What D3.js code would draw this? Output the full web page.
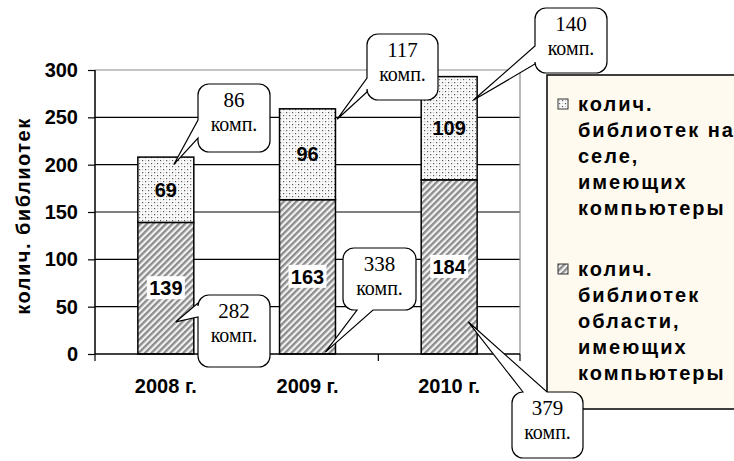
<!DOCTYPE html>
<html>
<head>
<meta charset="utf-8">
<script src="https://cdn.jsdelivr.net/npm/d3@7"></script>
<style>
  body { margin: 0; background: #fff; }
  svg { font-family: "Liberation Sans", Arial, sans-serif; }
</style>
</head>
<body>
<svg width="734" height="461"></svg>
<script>
// Chart data.
let years = ["2008 г.", "2009 г.", "2010 г."];
let regionLibs = [139, 163, 184];   // библиотеки области с компьютерами
let villageLibs = [69, 96, 109];    // библиотеки на селе с компьютерами
let regionComps = [282, 338, 379];  // компьютеров всего
let villageComps = [86, 117, 140];  // компьютеров на селе
let yTicks = [0, 50, 100, 150, 200, 250, 300];
let legendLines = [
    ["колич.", "библиотек на", "селе,", "имеющих", "компьютеры"],
    ["колич.", "библиотек", "области,", "имеющих", "компьютеры"]
];

// Callout layout (box + where the pointer hits the bar, in value units).
let villageCallouts = [
    { x: 198, y: 84, w: 72, h: 68, side: "left", b1: 36, b2: 54, frac: 0.64, val: 200 },
    { x: 367, y: 34, w: 71, h: 66, side: "left", b1: 44, b2: 58, frac: 1.03, val: 248 },
    { x: 535, y: 8, w: 72, h: 65, side: "left", b1: 38, b2: 56, frac: 0.93, val: 268 }
];
let regionCallouts = [
    { x: 198, y: 295, w: 72, h: 72, side: "left", b1: 8, b2: 22, frac: 0.68, val: 34 },
    { x: 343, y: 248, w: 73, h: 62, side: "bottom", b1: 14, b2: 30, frac: 0.82, val: 2 },
    { x: 512, y: 392, w: 71, h: 66, side: "top", b1: 11, b2: 35, frac: 0.84, val: 34 }
];

let svg = d3.select("svg");

// Plot area.
let plotLeft = 95, plotRight = 520, plotTop = 70, plotBottom = 354;

let x = d3.scaleBand().domain(years).range([plotLeft, plotRight])
    .paddingInner(0.605).paddingOuter(0.3025);
let y = d3.scaleLinear().domain([0, 300]).range([plotBottom, plotTop]);

// Fill patterns.
let defs = svg.append("defs");
let hatch = defs.append("pattern")
    .attr("id", "hatch")
    .attr("patternUnits", "userSpaceOnUse")
    .attr("width", 4.5).attr("height", 4.5)
    .attr("patternTransform", "rotate(45)");
hatch.append("rect").attr("width", 4.5).attr("height", 4.5).attr("fill", "#f2f2f2");
hatch.append("rect").attr("width", 2.3).attr("height", 4.5).attr("fill", "#8c8c8c");

let dots = defs.append("pattern")
    .attr("id", "dots")
    .attr("patternUnits", "userSpaceOnUse")
    .attr("width", 6).attr("height", 6);
dots.append("rect").attr("width", 6).attr("height", 6).attr("fill", "#fbfbfb");
[[0, 0, "#555"], [3, 3, "#555"], [3, 0, "#c8c8c8"], [0, 3, "#c8c8c8"]].forEach(function (d) {
    dots.append("rect").attr("x", d[0] + 1).attr("y", d[1] + 1)
        .attr("width", 1.2).attr("height", 1.2).attr("fill", d[2]);
});

// Gridlines (top one is the grey plot border).
svg.append("g").selectAll("line")
    .data(yTicks.slice(1))
    .join("line")
    .attr("x1", plotLeft).attr("x2", plotRight)
    .attr("y1", d => y(d)).attr("y2", d => y(d))
    .attr("stroke", d => d == 300 ? "#8a8a8a" : "#000")
    .attr("stroke-width", 1.2);
svg.append("line")
    .attr("x1", plotRight).attr("x2", plotRight)
    .attr("y1", plotTop).attr("y2", plotBottom)
    .attr("stroke", "#8a8a8a").attr("stroke-width", 1.2);

// Stacked bars.
let bars = svg.append("g");
years.forEach(function (yr, i) {
    bars.append("rect")
        .attr("x", x(yr)).attr("width", x.bandwidth())
        .attr("y", y(regionLibs[i])).attr("height", y(0) - y(regionLibs[i]))
        .attr("fill", "url(#hatch)").attr("stroke", "#000").attr("stroke-width", 1.5);
    bars.append("rect")
        .attr("x", x(yr)).attr("width", x.bandwidth())
        .attr("y", y(regionLibs[i] + villageLibs[i])).attr("height", y(0) - y(villageLibs[i]))
        .attr("fill", "url(#dots)").attr("stroke", "#000").attr("stroke-width", 1.5);
});

// Value labels inside the bars.
years.forEach(function (yr, i) {
    let cx = x(yr) + x.bandwidth() / 2;
    let cy = y(regionLibs[i] / 2);
    bars.append("rect")
        .attr("x", cx - 19).attr("y", cy - 12).attr("width", 38).attr("height", 23)
        .attr("fill", "#fff");
    bars.append("text")
        .attr("x", cx).attr("y", cy + 7)
        .attr("text-anchor", "middle")
        .attr("font-size", 20).attr("font-weight", "bold")
        .text(regionLibs[i]);
    bars.append("text")
        .attr("x", cx).attr("y", y(regionLibs[i] + villageLibs[i] / 2) + 7)
        .attr("text-anchor", "middle")
        .attr("font-size", 20).attr("font-weight", "bold")
        .text(villageLibs[i]);
});

// Axes.
let yAxis = svg.append("g")
    .attr("transform", "translate(" + plotLeft + ",0)")
    .call(d3.axisLeft(y).tickValues(yTicks).tickSize(7).tickPadding(10));
let xAxis = svg.append("g")
    .attr("transform", "translate(0," + plotBottom + ")")
    .call(d3.axisBottom(x).tickSize(0).tickPadding(25));
[yAxis, xAxis].forEach(function (g) {
    g.attr("font-family", null);
    g.select(".domain").attr("stroke", "#000").attr("stroke-width", 1.5);
    g.selectAll(".tick line").attr("stroke", "#000").attr("stroke-width", 1.2);
    g.selectAll("text")
        .attr("font-size", 20).attr("font-weight", "bold").attr("fill", "#000");
});
yAxis.select(".domain").attr("d", "M0," + plotTop + "V" + plotBottom);
xAxis.select(".domain").attr("d", "M" + plotLeft + ",0H" + plotRight);

// Category boundary ticks on the x axis.
let bounds = [plotLeft].concat(years.map(d => x(d) + x.bandwidth() + x.step() * x.paddingInner() / 2));
bounds[bounds.length - 1] = plotRight;
svg.append("g").selectAll("line")
    .data(bounds)
    .join("line")
    .attr("x1", d => d).attr("x2", d => d)
    .attr("y1", plotBottom).attr("y2", plotBottom + 7)
    .attr("stroke", "#000").attr("stroke-width", 1.2);

// Y axis title.
svg.append("text")
    .attr("transform", "translate(30," + ((plotTop + plotBottom) / 2 + 4) + ") rotate(-90)")
    .attr("text-anchor", "middle")
    .attr("font-size", 20).attr("font-weight", "bold")
    .attr("letter-spacing", 1.5)
    .text("колич. библиотек");

// Legend.
let legend = svg.append("g");
legend.append("rect")
    .attr("x", 547).attr("y", 75).attr("width", 200).attr("height", 334)
    .attr("fill", "#fffaef").attr("stroke", "#000").attr("stroke-width", 1.5);
let swatches = ["url(#dots)", "url(#hatch)"];
let groupTop = [104, 269];
legendLines.forEach(function (lines, g) {
    legend.append("rect")
        .attr("x", 558).attr("y", groupTop[g] - 5).attr("width", 10).attr("height", 10)
        .attr("fill", swatches[g]).attr("stroke", "#333").attr("stroke-width", 1);
    lines.forEach(function (ln, k) {
        legend.append("text")
            .attr("x", 578).attr("y", groupTop[g] + k * 26 + 7)
            .attr("font-size", 20).attr("font-weight", "bold")
            .attr("letter-spacing", 2)
            .text(ln);
    });
});

// Callout path: rounded box with a wedge pointing at (tx, ty).
let calloutPath = function (c, tx, ty) {
    let r = 11, x0 = c.x, y0 = c.y, x1 = c.x + c.w, y1 = c.y + c.h;
    let p = d3.path();
    p.moveTo(x0 + r, y0);
    if (c.side == "top") {
        p.lineTo(x0 + c.b1, y0); p.lineTo(tx, ty); p.lineTo(x0 + c.b2, y0);
    }
    p.lineTo(x1 - r, y0);
    p.arcTo(x1, y0, x1, y0 + r, r);
    p.lineTo(x1, y1 - r);
    p.arcTo(x1, y1, x1 - r, y1, r);
    if (c.side == "bottom") {
        p.lineTo(x0 + c.b2, y1); p.lineTo(tx, ty); p.lineTo(x0 + c.b1, y1);
    }
    p.lineTo(x0 + r, y1);
    p.arcTo(x0, y1, x0, y1 - r, r);
    if (c.side == "left") {
        p.lineTo(x0, y0 + c.b2); p.lineTo(tx, ty); p.lineTo(x0, y0 + c.b1);
    }
    p.lineTo(x0, y0 + r);
    p.arcTo(x0, y0, x0 + r, y0, r);
    p.closePath();
    return p.toString();
};

let drawCallouts = function (layout, values) {
    layout.forEach(function (c, i) {
        let tx = x(years[i]) + c.frac * x.bandwidth();
        let ty = y(c.val);
        let g = svg.append("g")
            .style("font-family", "'Liberation Serif', 'Times New Roman', serif");
        g.append("path")
            .attr("d", calloutPath(c, tx, ty))
            .attr("fill", "#fff").attr("stroke", "#000").attr("stroke-width", 1.2);
        g.append("text")
            .attr("x", c.x + c.w / 2).attr("y", c.y + 23)
            .attr("text-anchor", "middle")
            .attr("font-size", 21)
            .text(values[i]);
        g.append("text")
            .attr("x", c.x + c.w / 2).attr("y", c.y + 47)
            .attr("text-anchor", "middle")
            .attr("font-size", 20)
            .text("комп.");
    });
};

drawCallouts(villageCallouts, villageComps);
drawCallouts(regionCallouts, regionComps);
</script>
</body>
</html>
